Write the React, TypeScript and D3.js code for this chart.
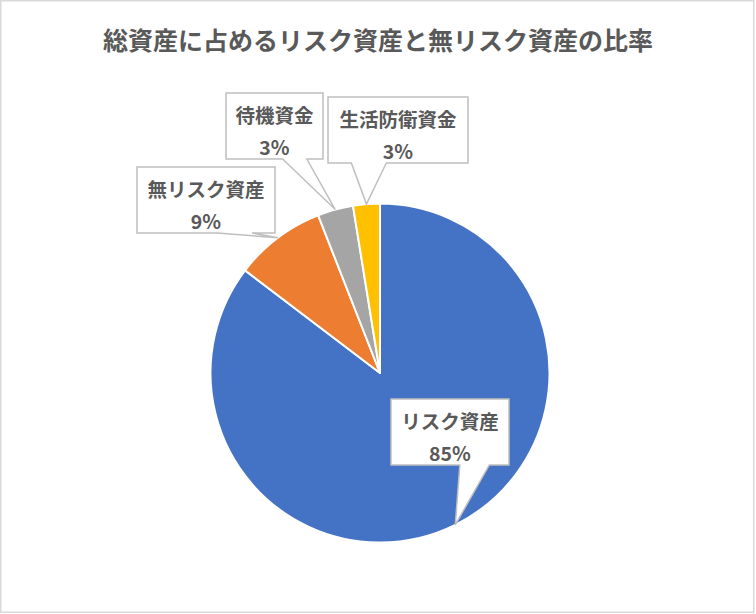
import React from "react";
import * as d3 from "d3";

const TITLE = "総資産に占めるリスク資産と無リスク資産の比率";
const categories = ["リスク資産", "無リスク資産", "待機資金", "生活防衛資金"];
const values = [85.35, 8.7, 3.4, 2.55];
const colors = ["#4472C4", "#ED7D31", "#A5A5A5", "#FFC000"];

// label callout boxes (layout)
const boxes = [
  { x: 391, y: 399, w: 118, h: 66 },
  { x: 137, y: 167, w: 138, h: 66 },
  { x: 226, y: 93, w: 97, h: 66 },
  { x: 328, y: 97, w: 140, h: 66 },
];

const W = 756;
const H = 614;
const CX = 380;
const CY = 373;
const R = 169.5;
const FONT = '"Noto Sans CJK JP", "Noto Sans", sans-serif';
const TEXT = "#595959";

function calloutPath(b: { x: number; y: number; w: number; h: number }, tx: number, ty: number) {
  const l = b.x, t = b.y, r = b.x + b.w, btm = b.y + b.h;
  const hc = l + b.w / 2, vc = t + b.h / 2;
  const dx = tx - hc, dy = ty - vc;
  const dq = (dx * b.h) / b.w;
  const dz = Math.abs(dy) - Math.abs(dq);
  const xg1 = dx > 0 ? 7 : 2, xg2 = dx > 0 ? 10 : 5;
  const yg1 = dy > 0 ? 7 : 2, yg2 = dy > 0 ? 10 : 5;
  const x1 = l + (b.w * xg1) / 12, x2 = l + (b.w * xg2) / 12;
  const y1 = t + (b.h * yg1) / 12, y2 = t + (b.h * yg2) / 12;
  if (dz > 0) {
    if (dy > 0) {
      return `M${l},${t}L${r},${t}L${r},${btm}L${x2},${btm}L${tx},${ty}L${x1},${btm}L${l},${btm}Z`;
    }
    return `M${l},${t}L${x1},${t}L${tx},${ty}L${x2},${t}L${r},${t}L${r},${btm}L${l},${btm}Z`;
  }
  if (dx > 0) {
    return `M${l},${t}L${r},${t}L${r},${y1}L${tx},${ty}L${r},${y2}L${r},${btm}L${l},${btm}Z`;
  }
  return `M${l},${t}L${r},${t}L${r},${btm}L${l},${btm}L${l},${y2}L${tx},${ty}L${l},${y1}Z`;
}

export default function App() {
  const total = d3.sum(values);
  const pie = d3
    .pie<number>()
    .sort(null)
    .value((d) => d)
    .startAngle(0)
    .endAngle(2 * Math.PI);
  const arcs = pie(values);
  const arc = d3.arc<d3.PieArcDatum<number>>().innerRadius(0).outerRadius(R);
  const rimArc = d3.arc<d3.PieArcDatum<number>>().innerRadius(R).outerRadius(R);

  return (
    <svg
      width={W}
      height={H}
      style={{ position: "absolute", left: 0, top: 0, background: "#fff" }}
      fontFamily={FONT}
    >
      <rect x={0.75} y={0.75} width={753} height={611.5} fill="#fff" stroke="#d9d9d9" strokeWidth={1.5} />
      <text
        x={378}
        y={39}
        textAnchor="middle"
        dominantBaseline="central"
        fontSize={25}
        fontWeight={700}
        fill={TEXT}
      >
        {TITLE}
      </text>
      <g transform={`translate(${CX},${CY})`}>
        {arcs.map((a, i) => (
          <path key={i} d={arc(a) || ""} fill={colors[i]} stroke="#fff" strokeWidth={2} strokeLinejoin="round" />
        ))}
      </g>
      {arcs.map((a, i) => {
        const [px, py] = rimArc.centroid(a);
        const b = boxes[i];
        const tx = CX + px, ty = CY + py;
        const pct = Math.round((values[i] / total) * 100) + "%";
        return (
          <g key={"l" + i}>
            <path d={calloutPath(b, tx, ty)} fill="#fff" stroke="#bfbfbf" strokeWidth={1.5} strokeLinejoin="miter" />
            <text
              x={b.x + b.w / 2}
              y={b.y + 21.5}
              textAnchor="middle"
              dominantBaseline="central"
              fontSize={19.5}
              fontWeight={700}
              fill={TEXT}
            >
              {categories[i]}
            </text>
            <text
              x={b.x + b.w / 2}
              y={b.y + 53}
              textAnchor="middle"
              dominantBaseline="central"
              fontSize={19.5}
              fontWeight={700}
              fill={TEXT}
            >
              {pct}
            </text>
          </g>
        );
      })}
    </svg>
  );
}
